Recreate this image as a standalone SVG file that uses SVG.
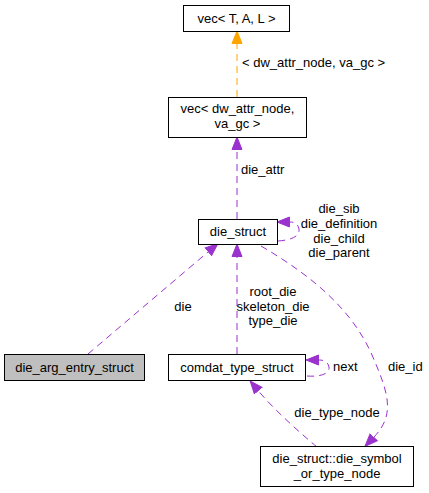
<svg xmlns="http://www.w3.org/2000/svg" width="429" height="493" viewBox="0 0 429 493">
<style>
  .node rect { fill: #ffffff; stroke: #000000; stroke-width: 1; }
  .node.gray rect { fill: #bfbfbf; }
  text { font-family: "Liberation Sans", Arial, sans-serif; font-size: 13px; fill: #000000; }
  .c { text-anchor: middle; }
  .edge { fill: none; stroke-width: 1; stroke-dasharray: 7,5; }
  .purple { stroke: #9a32cd; }
  .orange { stroke: #ffa500; }
</style>
<defs>
  <marker id="ap" markerUnits="userSpaceOnUse" markerWidth="14" markerHeight="12" refX="0" refY="6" orient="auto" viewBox="0 0 14 12">
    <path d="M0.5,1 L13,6 L0.5,11 z" fill="#9a32cd" stroke="#9a32cd" stroke-width="1"/>
  </marker>
  <marker id="ao" markerUnits="userSpaceOnUse" markerWidth="14" markerHeight="12" refX="0" refY="6" orient="auto" viewBox="0 0 14 12">
    <path d="M0.5,1 L13,6 L0.5,11 z" fill="#ffa500" stroke="#ffa500" stroke-width="1"/>
  </marker>
</defs>
<rect width="429" height="493" fill="#ffffff"/>
<g id="edges">
  <path class="edge orange" d="M237,97 L237,44" marker-end="url(#ao)"/>
  <path class="edge purple" d="M237,219 L237,150" marker-end="url(#ap)"/>
  <path class="edge purple" d="M278,241 C292,240 300,236 299,229 C298,224 295,222 290,222" marker-end="url(#ap)"/>
  <path class="edge purple" d="M88,354 L208,252" marker-end="url(#ap)"/>
  <path class="edge purple" d="M237,354 L237,257" marker-end="url(#ap)"/>
  <path class="edge purple" d="M261,246 C305,272 350,305 372,355 C388,392 396,414 374,437" marker-end="url(#ap)"/>
  <path class="edge purple" d="M307,376 C320,377 330,374 329,367 C328,362 324,360 319,360" marker-end="url(#ap)"/>
  <path class="edge purple" d="M317,447 C305,437 276,412 258.5,391" marker-end="url(#ap)"/>
  <text x="242" y="67">&lt; dw_attr_node, va_gc &gt;</text>
  <text x="241" y="174">die_attr</text>
  <text class="c" x="339" y="213">die_sib</text>
  <text class="c" x="339" y="228">die_definition</text>
  <text class="c" x="339" y="243">die_child</text>
  <text class="c" x="339" y="257">die_parent</text>
  <text class="c" x="183" y="311">die</text>
  <text class="c" x="273" y="296">root_die</text>
  <text class="c" x="273" y="311">skeleton_die</text>
  <text class="c" x="273" y="325">type_die</text>
  <text x="333" y="371">next</text>
  <text x="388" y="371">die_id</text>
  <text class="c" x="337" y="417">die_type_node</text>
</g>
<g id="node-vec-tal" class="node">
  <rect x="183.5" y="5.5" width="106" height="26"/>
  <text class="c" x="236.5" y="23">vec&lt; T, A, L &gt;</text>
</g>
<g id="node-vec-dw" class="node">
  <rect x="168.5" y="97.5" width="138" height="40"/>
  <text class="c" x="237.5" y="113">vec&lt; dw_attr_node,</text>
  <text class="c" x="237.5" y="128">va_gc &gt;</text>
</g>
<g id="node-die-struct" class="node">
  <rect x="198.5" y="219.5" width="79" height="25"/>
  <text class="c" x="238" y="236">die_struct</text>
</g>
<g id="node-die-arg" class="node gray">
  <rect x="4.5" y="354.5" width="140" height="26"/>
  <text class="c" x="74.5" y="372">die_arg_entry_struct</text>
</g>
<g id="node-comdat" class="node">
  <rect x="168.5" y="354.5" width="137" height="26"/>
  <text class="c" x="237" y="372">comdat_type_struct</text>
</g>
<g id="node-die-symbol" class="node">
  <rect x="260.5" y="446.5" width="153" height="40"/>
  <text class="c" x="337" y="463">die_struct::die_symbol</text>
  <text class="c" x="337" y="478">_or_type_node</text>
</g>
</svg>
